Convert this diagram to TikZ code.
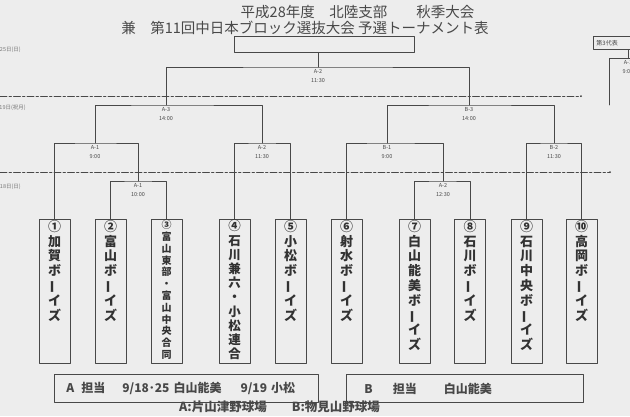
\documentclass[tikz,border=0pt]{standalone}
\usepackage{fontspec}
\usepackage{graphicx}
\setmainfont{Noto Sans CJK JP}
\definecolor{scanbg}{RGB}{237,237,237}
\definecolor{ink}{RGB}{72,72,72}
\definecolor{inkl}{RGB}{120,120,120}
\newcommand{\nobashi}{\rotatebox[origin=c]{90}{ー}}
\begin{document}
\begin{tikzpicture}[
				x=1pt,y=-1pt,line join = round,line cap = round,
				kumi/.style={draw = ink, line width=0.9pt},
				kugiri/.style={draw = ink, line width=0.8pt, dash pattern=on 7pt off 2pt on 2.5pt off 2pt},
				senbox/.style={rectangle,draw = ink, line width=1pt, minimum width=31pt, minimum height=144pt, anchor=north, inner sep=0pt},
				sentxt/.style={anchor=north, align=center, inner sep=0pt, text=ink!70!black, font=\fontsize{13}{14.8}\selectfont\bfseries},
				shiai/.style={anchor=north, align=center, inner sep=0pt, yshift=-2.5pt, text=ink, font=\fontsize{5.5}{8.5}\selectfont},
				hizuke/.style={anchor=east, inner sep=0pt, text=inkl, font=\fontsize{5.5}{6}\selectfont},
				tanto/.style={rectangle,draw = ink, line width=0.9pt, anchor=north west, minimum height=28pt, align=left, text=ink, font=\fontsize{12}{14}\selectfont\bfseries}]
				\useasboundingbox (0,0) rectangle (630,416);
				\fill[scanbg] (0,0) rectangle (630,416);
				\clip (0,0) rectangle (630,416);
				% titles
				\node at (357.5,12) (tit1) [text=ink, font=\fontsize{14.5}{16}\selectfont] {平成28年度　北陸支部　　秋季大会};
				\node at (305,28) (tit2) [text=ink, font=\fontsize{14.5}{16}\selectfont] {兼　第11回中日本ブロック選抜大会 予選トーナメント表};
				\node at (234,36) (win) [rectangle, draw = ink, line width=0.9pt, anchor=north west, minimum width=180pt, minimum height=16pt] {};
				% days
				\node at (21,50) (hi3) [hizuke] {25日(日)};
				\node at (26,108) (hi2) [hizuke] {19日(祝月)};
				\node at (21,187) (hi1) [hizuke] {18日(日)};
				\coordinate (k1s) at (0,96);
				\coordinate (k1e) at (581,96);
				\coordinate (k2s) at (0,172);
				\coordinate (k2e) at (610,172);
				\draw[kugiri] (k1s) -- (k1e);
				\draw[kugiri] (k2s) -- (k2e);
				\fill[ink] (k1e) circle (1);
				\fill[ink] (k2e) circle (1);
				% teams
				\node at (54.5,219) (t1) [senbox] {};
				\node at (110.5,219) (t2) [senbox] {};
				\node at (166.5,219) (t3) [senbox] {};
				\node at (234.5,219) (t4) [senbox] {};
				\node at (290.5,219) (t5) [senbox] {};
				\node at (346.5,219) (t6) [senbox] {};
				\node at (414.5,219) (t7) [senbox] {};
				\node at (470,219) (t8) [senbox] {};
				\node at (526.5,219) (t9) [senbox] {};
				\node at (581.5,219) (t10) [senbox] {};
				\node at ([yshift=-1pt]t1.north) [sentxt] {①\\加\\賀\\ボ\\\nobashi\\イ\\ズ};
				\node at ([yshift=-1pt]t2.north) [sentxt] {②\\富\\山\\ボ\\\nobashi\\イ\\ズ};
				\node at ([yshift=-1pt]t3.north) [sentxt, font=\fontsize{10}{11.8}\selectfont\bfseries] {③\\富\\山\\東\\部\\・\\富\\山\\中\\央\\合\\同};
				\node at ([yshift=-1pt]t4.north) [sentxt, font=\fontsize{12.5}{14.2}\selectfont\bfseries] {④\\石\\川\\兼\\六\\・\\小\\松\\連\\合};
				\node at ([yshift=-1pt]t5.north) [sentxt] {⑤\\小\\松\\ボ\\\nobashi\\イ\\ズ};
				\node at ([yshift=-1pt]t6.north) [sentxt] {⑥\\射\\水\\ボ\\\nobashi\\イ\\ズ};
				\node at ([yshift=-1pt]t7.north) [sentxt] {⑦\\白\\山\\能\\美\\ボ\\\nobashi\\イ\\ズ};
				\node at ([yshift=-1pt]t8.north) [sentxt] {⑧\\石\\川\\ボ\\\nobashi\\イ\\ズ};
				\node at ([yshift=-1pt]t9.north) [sentxt] {⑨\\石\\川\\中\\央\\ボ\\\nobashi\\イ\\ズ};
				\node at ([yshift=-1pt]t10.north) [sentxt] {⑩\\高\\岡\\ボ\\\nobashi\\イ\\ズ};
				% matches
				\coordinate (fin) at (318,67);
				\coordinate (mA3) at (166,105);
				\coordinate (mB3) at (469,105);
				\coordinate (mA1) at (95,143);
				\coordinate (mA2) at (262,143);
				\coordinate (mB1) at (387,143);
				\coordinate (mB2) at (554,143);
				\coordinate (mA1b) at (138,181);
				\coordinate (mA2b) at (443,181);
				\draw[kumi] (win.south -| fin) -- (fin);
				\draw[kumi] (mA3) |- (fin) -| (mB3);
				\draw[kumi] (mA1) |- (mA3) -| (mA2);
				\draw[kumi] (mB1) |- (mB3) -| (mB2);
				\draw[kumi] (t1.north) |- (mA1) -| (mA1b);
				\draw[kumi] (t2.north) |- (mA1b) -| (t3.north);
				\draw[kumi] (t4.north) |- (mA2) -| (t5.north);
				\draw[kumi] (t6.north) |- (mB1) -| (mA2b);
				\draw[kumi] (t7.north) |- (mA2b) -| (t8.north);
				\draw[kumi] (t9.north) |- (mB2) -| (t10.north);
				\node at (fin) [shiai] {A-2\\11:30};
				\node at (mA3) [shiai] {A-3\\14:00};
				\node at (mB3) [shiai] {B-3\\14:00};
				\node at (mA1) [shiai] {A-1\\9:00};
				\node at (mA2) [shiai] {A-2\\11:30};
				\node at (mB1) [shiai] {B-1\\9:00};
				\node at (mB2) [shiai] {B-2\\11:30};
				\node at (mA1b) [shiai] {A-1\\10:00};
				\node at (mA2b) [shiai] {A-2\\12:30};
				% next block (cut off)
				\node at (593,36) (dai3) [rectangle, draw = ink, line width=0.9pt, anchor=north west, minimum height=13pt, text width=50pt, inner xsep=3pt, align=left, text=ink, font=\fontsize{6}{7}\selectfont] {第3代表};
				\coordinate (rj) at (628,58);
				\coordinate (rk) at (609,105);
				\coordinate (re) at (645,58);
				\draw[kumi] (dai3.south -| rj) -- (rj);
				\draw[kumi] (rk) |- (re);
				\node at (rj) [shiai] {A-1\\9:00};
				% venues
				\node at (54,374) (tanA) [tanto, text width=240pt, inner xsep=12pt] {A\hspace{7pt}担当\hspace{17pt}9/18･25 白山能美\hspace{19pt}9/19 小松};
				\node at (346,374) (tanB) [tanto, text width=201pt, inner xsep=18pt] {B\hspace{20pt}担当\hspace{27pt}白山能美};
				\node at (179,407) (kjo) [anchor=west, inner sep=0pt, text=ink, font=\fontsize{12.5}{14}\selectfont\bfseries] {A:片山津野球場　　B:物見山野球場};
			\end{tikzpicture}
\end{document}
